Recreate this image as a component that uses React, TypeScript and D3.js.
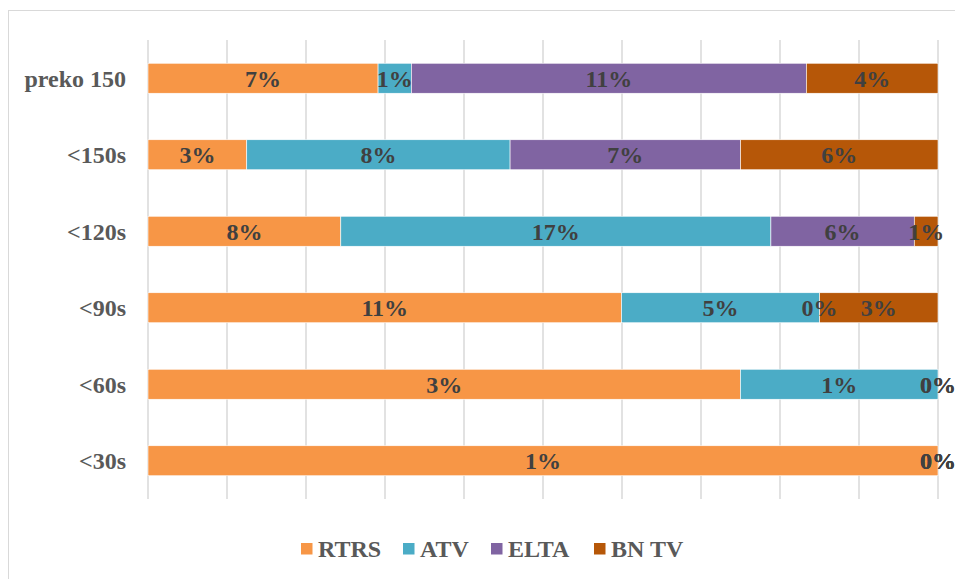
import * as d3 from "d3";
import React, { useEffect, useRef } from "react";

const categories = ["preko 150", "<150s", "<120s", "<90s", "<60s", "<30s"];
const seriesNames = ["RTRS", "ATV", "ELTA", "BN TV"];
const rtrs = [6.64, 3.0, 7.8, 11.0, 3.0, 1.0];
const atv = [0.96, 8.0, 17.4, 4.6, 1.0, 0];
const elta = [11.4, 7.0, 5.8, 0, 0, 0];
const bntv = [3.8, 6.0, 0.96, 2.75, 0, 0];
const colors = ["#F79646", "#4BACC6", "#8064A2", "#B65708"];

const App = () => {
  const ref = useRef<SVGSVGElement>(null);

  useEffect(() => {
    const svg = d3.select(ref.current);
    svg.selectAll("*").remove();

    const left = 148;
    const right = 938;
    const top = 40;
    const bottom = 499;
    const font = "'Liberation Serif', 'Times New Roman', serif";

    const rows = categories.map((c, i) => ({
      cat: c,
      RTRS: rtrs[i],
      ATV: atv[i],
      ELTA: elta[i],
      "BN TV": bntv[i],
    }));

    const stack = d3.stack<any>().keys(seriesNames).offset(d3.stackOffsetExpand);
    const layers = stack(rows);

    const x = d3.scaleLinear().domain([0, 1]).range([left, right]);
    const y = d3
      .scaleBand()
      .domain(categories)
      .range([top, bottom])
      .paddingInner(0.608)
      .paddingOuter(0.304);

    // chart border
    svg
      .append("rect")
      .attr("x", 8.5)
      .attr("y", 10.5)
      .attr("width", 960)
      .attr("height", 600)
      .attr("fill", "white")
      .attr("stroke", "#D9D9D9")
      .attr("stroke-width", 1);

    // gridlines
    svg
      .append("g")
      .selectAll("line")
      .data(x.ticks(10))
      .enter()
      .append("line")
      .attr("x1", (d) => x(d))
      .attr("x2", (d) => x(d))
      .attr("y1", top)
      .attr("y2", bottom)
      .attr("stroke", "#D9D9D9")
      .attr("stroke-width", 1.5);

    // bars
    layers.forEach((layer, si) => {
      svg
        .append("g")
        .selectAll("rect")
        .data(layer)
        .enter()
        .append("rect")
        .attr("x", (d) => x(d[0]))
        .attr("y", (d) => y(d.data.cat)!)
        .attr("width", (d) => Math.max(0, x(d[1]) - x(d[0])))
        .attr("height", y.bandwidth())
        .attr("fill", colors[si])
        .attr("stroke", "white")
        .attr("stroke-width", 0.6);
    });

    // data labels
    layers.forEach((layer) => {
      svg
        .append("g")
        .selectAll("text")
        .data(layer)
        .enter()
        .append("text")
        .attr("x", (d) => (x(d[0]) + x(d[1])) / 2)
        .attr("y", (d) => y(d.data.cat)! + y.bandwidth() / 2)
        .attr("dy", "0.35em")
        .attr("text-anchor", "middle")
        .attr("font-family", font)
        .attr("font-weight", "bold")
        .attr("font-size", 24)
        .attr("fill", "#404040")
        .text((d) => `${Math.round(d.data[layer.key])}%`);
    });

    // category labels
    svg
      .append("g")
      .selectAll("text")
      .data(categories)
      .enter()
      .append("text")
      .attr("x", 126)
      .attr("y", (d) => y(d)! + y.bandwidth() / 2)
      .attr("dy", "0.35em")
      .attr("text-anchor", "end")
      .attr("font-family", font)
      .attr("font-weight", "bold")
      .attr("font-size", 24)
      .attr("fill", "#595959")
      .text((d) => d);

    // legend
    const legendX = [301, 403, 491, 594];
    const legend = svg.append("g");
    seriesNames.forEach((name, i) => {
      legend
        .append("rect")
        .attr("x", legendX[i])
        .attr("y", 543)
        .attr("width", 11.5)
        .attr("height", 11.5)
        .attr("fill", colors[i]);
      legend
        .append("text")
        .attr("x", legendX[i] + 17)
        .attr("y", 549)
        .attr("dy", "0.35em")
        .attr("font-family", font)
        .attr("font-weight", "bold")
        .attr("font-size", 24)
        .attr("fill", "#595959")
        .text(name);
    });
  }, []);

  return (
    <svg
      ref={ref}
      width={955}
      height={579}
      style={{ position: "absolute", left: 0, top: 0, display: "block" }}
    />
  );
};

export default App;
